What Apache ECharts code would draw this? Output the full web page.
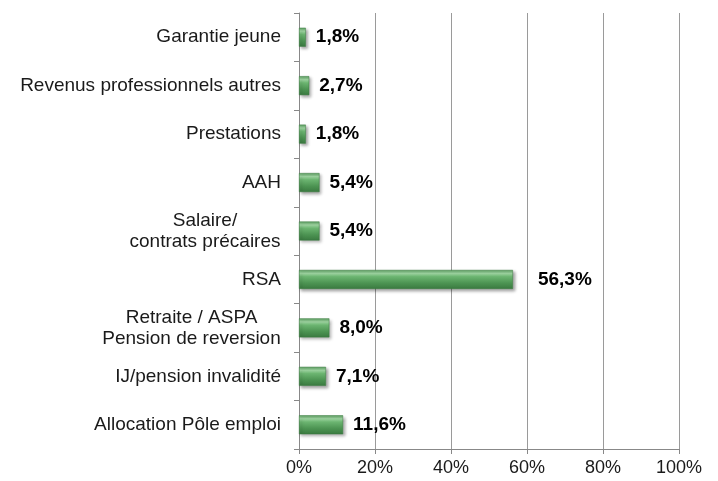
<!DOCTYPE html>
<html>
<head>
<meta charset="utf-8">
<script src="https://cdn.jsdelivr.net/npm/echarts@6/dist/echarts.min.js"></script>
<style>
  html, body { margin: 0; padding: 0; background: #fff; }
  #chart { width: 718px; height: 481px; }
</style>
</head>
<body>
<div id="chart"></div>
<script>
// categories, from bottom to top
var categories = [
    'Allocation Pôle emploi',
    'IJ/pension invalidité',
    'Retraite / ASPA\nPension de reversion',
    'RSA',
    'Salaire/\ncontrats précaires',
    'AAH',
    'Prestations',
    'Revenus professionnels autres',
    'Garantie jeune'
];
var values = [11.6, 7.1, 8.0, 56.3, 5.4, 5.4, 1.8, 2.7, 1.8];
var xTicks = [0, 20, 40, 60, 80, 100];

var font = 'Liberation Sans, Arial, sans-serif';
var labelSize = 19;

// largeur des libellés sur deux lignes (pour centrer les lignes)
var ctx = document.createElement('canvas').getContext('2d');
ctx.font = labelSize + 'px ' + font;
function blockWidth(txt) {
    var w = 0;
    txt.split('\n').forEach(function (l) { w = Math.max(w, ctx.measureText(l).width); });
    return Math.ceil(w);
}
var rich = {};
categories.forEach(function (c, i) {
    if (c.indexOf('\n') >= 0) {
        rich['m' + i] = {
            width: blockWidth(c),
            align: 'center',
            fontSize: labelSize,
            fontFamily: font,
            color: '#1a1a1a',
            lineHeight: 21
        };
    }
});

var barData = values.map(function (v) {
    // le libellé RSA est plus éloigné de la barre
    return v > 50 ? { value: v, label: { distance: 25 } } : v;
});

var chart = echarts.init(document.getElementById('chart'));

var option = {
    backgroundColor: '#fff',
    animation: false,
    grid: {
        left: 299,
        right: 39,
        top: 13,
        bottom: 32,
        containLabel: false
    },
    xAxis: {
        type: 'value',
        min: xTicks[0],
        max: xTicks[xTicks.length - 1],
        interval: 20,
        axisLine: { show: true, lineStyle: { color: '#888', width: 1 } },
        axisTick: { show: true, length: 5, lineStyle: { color: '#888' } },
        splitLine: { show: true, lineStyle: { color: '#9a9a9a', width: 1 } },
        axisLabel: {
            formatter: '{value}%',
            fontSize: 18,
            fontFamily: font,
            color: '#1a1a1a',
            margin: 10
        }
    },
    yAxis: {
        type: 'category',
        data: categories,
        axisLine: { show: true, lineStyle: { color: '#888', width: 1 } },
        axisTick: { show: true, length: 5, lineStyle: { color: '#888' } },
        axisLabel: {
            fontSize: labelSize,
            fontFamily: font,
            color: '#1a1a1a',
            margin: 18,
            lineHeight: 21,
            formatter: function (val, idx) {
                if (val.indexOf('\n') < 0) return val;
                var key = 'm' + categories.indexOf(val);
                return val.split('\n').map(function (l) {
                    return '{' + key + '|' + l + '}';
                }).join('\n');
            },
            rich: rich
        }
    },
    series: [{
        type: 'bar',
        data: barData,
        barWidth: 19,
        itemStyle: {
            color: new echarts.graphic.LinearGradient(0, 0, 0, 1, [
                { offset: 0, color: '#5b9e60' },
                { offset: 0.18, color: '#9fd6a2' },
                { offset: 0.35, color: '#6cb571' },
                { offset: 0.7, color: '#4c9352' },
                { offset: 1, color: '#3a7a40' }
            ]),
            borderColor: '#3d7e43',
            borderWidth: 0.5,
            shadowColor: 'rgba(0,0,0,0.35)',
            shadowBlur: 3,
            shadowOffsetX: 2,
            shadowOffsetY: 2
        },
        label: {
            show: true,
            position: 'right',
            distance: 10,
            fontSize: 19,
            fontWeight: 'bold',
            fontFamily: font,
            color: '#000',
            formatter: function (p) {
                return p.value.toFixed(1).replace('.', ',') + '%';
            }
        }
    }]
};

chart.setOption(option);
window.addEventListener('resize', function () {
    chart.resize();
});
</script>
</body>
</html>
